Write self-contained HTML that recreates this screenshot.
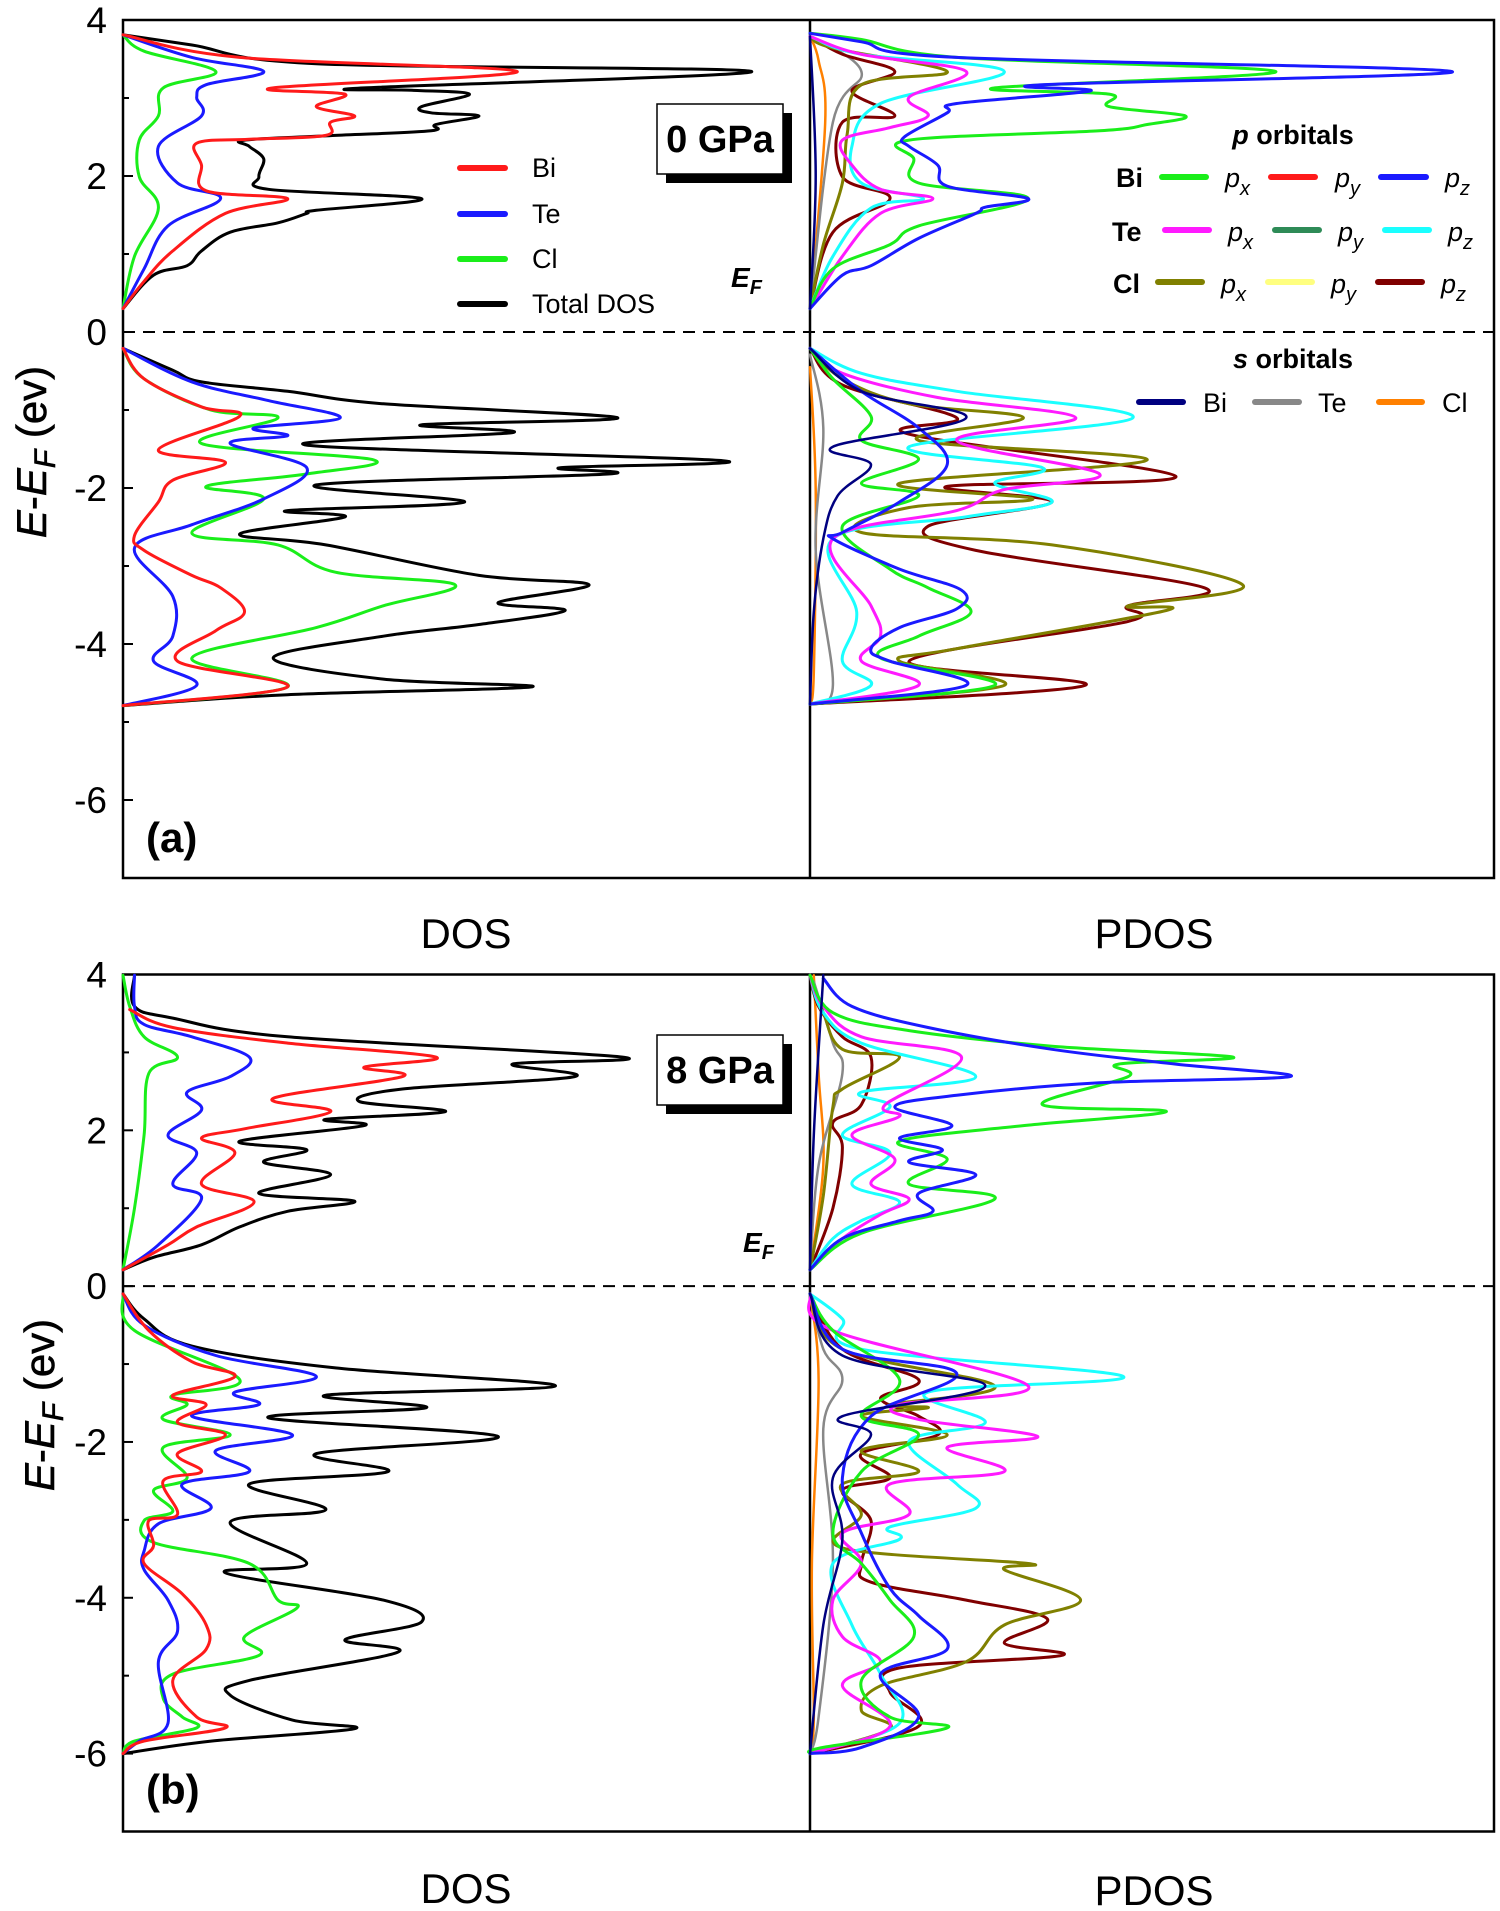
<!DOCTYPE html>
<html><head><meta charset="utf-8"><style>
html,body{margin:0;padding:0;background:#fff;}
svg{display:block;font-family:"Liberation Sans Narrow","Liberation Sans",sans-serif;}
</style></head><body>
<svg id="chart" width="1500" height="1911" viewBox="0 0 1500 1911" xmlns="http://www.w3.org/2000/svg">
<g id="frames"></g>
<g id="curves"></g>
<g id="labels"></g>
</svg>
<script>
// ===== Panel (a) 0 GPa, DOS =====
const totE_a=[0.30,0.73,0.85,1.04,1.28,1.40,1.52,1.56,1.71,1.83,1.99,2.22,2.38,2.46,2.52,2.58,2.66,2.77,2.81,2.89,3.05,3.10,3.13,3.34,3.44,3.68,3.81,null,-0.21,-0.49,-0.64,-0.76,-0.92,-1.10,-1.19,-1.29,-1.45,-1.65,-1.74,-1.82,-1.96,-2.18,-2.29,-2.37,-2.59,-2.73,-3.12,-3.24,-3.47,-3.57,-3.75,-3.90,-4.18,-4.45,-4.55,-4.65,-4.79];
const totV_a=[0,3.2,6.7,8.2,11.2,16.2,19.2,20.2,31.2,15.2,14.2,14.7,13.2,12.7,22.2,32.2,32.7,37.2,32.2,31.2,36.2,30.2,25.2,65.7,20.2,7.2,0,null,0,5.2,8.2,17.2,27.2,51.7,31.2,40.7,19.2,62.7,45.7,50.7,20.2,35.7,17.2,23.2,12.2,21.2,37.2,48.7,39.2,46.2,37.2,27.2,15.7,27.2,42.7,17.2,0];
const biE_a=[0.30,0.65,1.04,1.52,1.71,1.81,2.14,2.42,2.47,2.52,2.69,2.77,2.89,3.05,3.13,3.34,3.52,3.81,null,-0.21,-0.60,-0.96,-1.08,-1.51,-1.67,-1.90,-2.18,-2.61,-2.80,-3.12,-3.28,-3.59,-3.83,-4.22,-4.55,-4.79];
const biV_a=[0,2.2,5.2,10.7,17.2,8.7,8.2,7.7,13.2,21.2,21.7,24.2,20.2,23.2,15.7,41.2,12.2,0,null,0,2.2,8.2,12.2,3.7,10.7,5.2,3.7,1.2,2.2,7.2,10.2,12.7,9.7,5.7,17.2,0];
const teE_a=[0.30,0.81,1.36,1.71,1.91,2.38,2.77,3.01,3.17,3.34,3.52,3.81,null,-0.21,-0.64,-0.88,-1.10,-1.23,-1.33,-1.43,-1.74,-2.14,-2.47,-2.77,-3.39,-3.90,-4.22,-4.53,-4.79];
const teV_a=[0,2.2,4.7,10.2,5.7,3.7,8.2,7.7,8.7,14.7,7.2,0,null,0,7.2,15.2,22.7,13.7,17.2,11.2,19.2,14.7,7.2,1.2,5.2,5.2,3.2,7.7,0];
const clE_a=[0.30,0.97,1.59,1.99,2.46,2.77,3.13,3.34,3.60,3.81,null,-0.21,-0.60,-1.00,-1.10,-1.43,-1.64,-1.82,-1.98,-2.14,-2.58,-2.73,-3.08,-3.24,-3.51,-3.79,-4.18,-4.55,-4.79];
const clV_a=[0,1.2,3.7,1.7,1.7,3.7,4.2,9.7,2.2,0,null,0,2.2,9.2,16.2,8.2,26.2,19.2,8.7,14.7,7.2,16.2,22.2,34.7,27.2,20.2,7.2,17.2,0];
// ===== Panel (a) PDOS =====
const biPzE_a=[0.30,0.73,0.85,1.20,1.52,1.60,1.71,1.87,2.14,2.38,2.50,2.81,2.93,3.09,3.17,3.34,3.52,3.72,3.83,null,-0.21,-0.76,-1.23,-1.70,-2.18,-2.57,-2.65,-3.04,-3.31,-3.55,-3.79,-4.06,-4.22,-4.53,-4.77];
const biPzV_a=[0,3.4,6.4,11.4,17.4,18.4,22.9,14.4,13.4,10.4,9.9,14.4,15.4,29.4,24.4,67.4,15.4,5.4,0,null,0,5.4,11.4,14.4,9.4,3.4,2.4,9.4,15.9,15.4,9.4,6.4,8.4,16.4,0];
const biPxE_a=[0.30,0.81,1.12,1.36,1.71,1.91,2.22,2.46,2.58,2.66,2.77,2.89,3.05,3.13,3.34,3.52,3.75,3.83,null,-0.21,-0.60,-1.08,-1.39,-1.63,-1.94,-2.10,-2.49,-3.04,-3.28,-3.59,-3.90,-4.18,-4.53,-4.77];
const biPxV_a=[0,2.4,8.4,11.4,22.9,11.4,10.9,10.4,30.4,35.4,39.4,31.4,31.4,19.4,48.9,15.4,5.4,0,null,0,2.4,6.4,5.4,11.4,5.4,11.4,3.4,8.4,12.4,16.9,11.4,7.4,19.4,0];
const tePxE_a=[0.30,0.97,1.52,1.71,1.83,2.14,2.46,2.62,2.77,3.01,3.34,3.56,3.79,null,-0.21,-0.53,-0.84,-1.10,-1.39,-1.82,-2.02,-2.29,-2.65,-3.51,-3.90,-4.22,-4.53,-4.77];
const tePxV_a=[0,3.4,7.4,12.9,7.4,4.4,3.4,8.4,12.4,10.4,16.4,5.4,0,null,0,3.4,13.4,27.9,15.4,30.4,20.4,15.4,2.4,6.4,7.4,5.4,11.4,0];
const tePzE_a=[0.30,0.97,1.59,1.71,1.91,2.38,2.93,3.34,3.56,3.79,null,-0.21,-0.53,-0.76,-1.10,-1.47,-1.74,-1.94,-2.18,-2.37,-2.65,-3.59,-4.22,-4.53,-4.77];
const tePzV_a=[0,2.4,6.4,11.9,5.4,4.4,7.4,20.4,5.4,0,null,0,5.4,15.4,33.9,10.4,24.4,19.4,25.4,16.4,2.4,4.9,3.4,6.4,0];
const clPxE_a=[0.30,1.12,1.91,2.54,3.17,3.34,3.64,3.79,null,-0.21,-0.60,-0.92,-1.10,-1.39,-1.64,-1.94,-2.14,-2.25,-2.57,-2.73,-3.24,-3.51,-3.57,-4.06,-4.22,-4.53,-4.77];
const clPxV_a=[0,1.4,3.4,3.9,5.4,14.4,2.4,0,null,0,3.4,10.4,22.4,11.4,35.4,9.4,23.4,10.4,5.4,25.4,45.4,33.4,37.4,15.4,9.4,20.4,0];
const clPzE_a=[0.30,1.28,1.71,1.99,2.69,2.77,3.09,3.34,3.56,3.79,null,-0.21,-0.68,-1.10,-1.31,-1.85,-1.98,-2.18,-2.49,-2.80,-3.28,-3.51,-3.71,-4.22,-4.53,-4.77];
const clPzV_a=[0,2.4,8.4,3.4,3.4,8.9,4.4,8.9,3.4,0,null,0,3.4,15.4,10.4,38.4,14.4,25.4,12.4,17.4,41.4,33.4,33.4,10.4,28.9,0];
const biSE_a=[0.30,2.0,3.79,null,-0.21,-0.76,-1.10,-1.47,-1.70,-2.10,-2.65,-3.59,-4.77];
const biSV_a=[0,0.6,0,null,0,5.4,16.4,2.4,6.4,2.9,1.4,0.4,0];
const teSE_a=[0.30,2.69,3.34,3.79,null,-0.29,-1.23,-2.80,-4.53,-4.77];
const teSV_a=[0,2.4,5.4,0,null,0,1.4,0.6,2.4,0];
const clSE_a=[0.30,2.69,3.48,3.79,null,-0.45,-2.02,-4.37,-4.77];
const clSV_a=[0,1.6,0.9,0,null,0,0.6,0.4,0];
// ===== Panel (b) 8 GPa, DOS =====
const totE_b=[0.21,0.37,0.53,0.76,0.96,1.09,1.19,1.43,1.59,1.75,1.86,2.06,2.14,2.24,2.37,2.53,2.69,2.85,2.94,3.20,3.44,3.59,3.99,null,-0.10,-0.42,-0.77,-1.05,-1.28,-1.40,-1.56,-1.69,-1.93,-2.15,-2.38,-2.54,-2.87,-3.03,-3.56,-3.68,-4.03,-4.31,-4.54,-4.70,-5.06,-5.25,-5.57,-5.68,-5.84,-6.00];
const totV_b=[0,3.2,8.2,12.2,17.2,24.2,14.2,21.7,14.7,19.2,12.2,25.2,21.2,33.7,24.7,29.2,47.2,40.7,52.2,17.2,5.2,1.2,1.2,null,0,2.2,7.2,22.2,45.2,21.2,31.7,15.2,39.2,20.2,27.7,13.2,21.2,11.2,19.2,10.7,27.2,31.2,23.2,28.7,13.2,11.2,17.7,24.2,9.2,0];
const biE_b=[0.21,0.53,0.76,1.08,1.31,1.71,1.90,2.02,2.24,2.41,2.69,2.81,2.94,3.12,3.32,3.55,null,-0.10,-0.57,-0.97,-1.16,-1.40,-1.52,-1.75,-1.91,-2.15,-2.38,-2.50,-2.93,-3.01,-3.33,-3.56,-3.95,-4.35,-4.66,-5.06,-5.53,-5.67,-5.84,-6.00];
const biV_b=[0,4.7,7.7,13.7,8.2,11.7,8.2,12.7,21.7,15.7,29.2,25.2,32.7,17.2,5.2,0.7,null,0,2.7,7.2,11.7,5.2,8.7,5.7,10.7,5.7,8.2,4.2,5.7,2.7,3.2,2.2,6.2,8.7,8.7,5.2,7.7,10.7,2.2,0];
const teE_b=[0.21,0.53,1.12,1.31,1.71,1.94,2.26,2.49,2.69,2.94,3.20,3.36,3.59,3.99,null,-0.10,-0.50,-0.89,-1.16,-1.36,-1.52,-1.67,-1.91,-2.11,-2.38,-2.54,-2.85,-3.05,-3.40,-3.64,-4.03,-4.43,-4.82,-5.61,-5.84,-6.00];
const teV_b=[0,3.7,8.2,5.2,7.7,4.7,8.2,6.7,11.2,13.2,7.2,2.2,1.2,1.2,null,0,2.2,9.7,20.2,11.7,14.2,7.2,17.7,9.7,13.2,6.2,9.2,3.7,2.2,2.2,4.7,5.7,3.7,4.7,1.7,0];
const clE_b=[0.21,1.00,1.94,2.73,2.94,3.20,3.59,3.99,null,-0.10,-0.57,-1.20,-1.40,-1.52,-1.71,-1.91,-2.07,-2.46,-2.62,-2.89,-3.01,-3.29,-3.56,-4.03,-4.13,-4.50,-4.74,-4.98,-5.29,-5.53,-5.67,-5.84,-6.00];
const clV_b=[0,1.2,2.2,2.7,5.7,2.2,0.7,0,null,0,1.2,12.2,5.2,6.7,4.2,11.2,4.2,6.7,3.2,5.2,2.2,3.2,13.2,16.2,18.2,12.7,14.2,5.2,4.2,6.2,7.7,1.2,0];
// ===== Panel (b) PDOS =====
const biPzE_b=[0.21,0.61,0.84,0.96,1.19,1.43,1.59,1.75,1.90,2.06,2.30,2.45,2.61,2.69,2.85,3.04,3.32,3.59,3.95,null,-0.10,-0.81,-1.12,-1.67,-2.46,-3.17,-3.88,-4.23,-4.66,-4.98,-5.53,-5.92,-6.00];
const biPzV_b=[0,3.4,9.4,12.9,11.4,17.4,10.4,13.9,9.4,14.9,8.9,15.4,30.4,50.4,38.4,25.4,12.4,4.4,1.4,null,0,3.4,15.4,6.4,3.4,5.4,8.4,11.4,14.4,7.4,11.4,5.4,0];
const biPxE_b=[0.21,0.68,1.12,1.31,1.63,1.86,2.06,2.24,2.33,2.69,2.85,2.94,3.08,3.28,3.51,3.99,null,-0.10,-0.57,-1.20,-1.67,-1.91,-2.38,-3.17,-3.56,-4.03,-4.50,-5.06,-5.53,-5.67,-5.92,-6.00];
const biPxV_b=[0,5.4,19.4,10.4,14.4,9.4,22.4,37.4,24.4,33.4,32.4,44.4,25.4,10.4,2.4,0,null,0,2.4,9.4,5.4,11.4,5.4,2.4,5.4,8.4,10.9,5.4,8.4,14.4,1.4,0];
const tePxE_b=[0.21,0.61,0.92,1.12,1.31,1.63,1.94,2.18,2.33,2.94,3.20,3.59,3.99,null,-0.10,-0.57,-1.28,-1.52,-1.71,-1.93,-2.07,-2.38,-2.54,-2.93,-3.17,-3.56,-4.03,-4.50,-4.82,-5.13,-5.65,-6.00];
const tePxV_b=[0,3.4,7.4,10.4,6.4,8.9,4.4,9.4,7.9,15.9,5.4,1.4,0,null,0,2.4,22.9,9.4,11.4,23.9,14.4,20.4,8.4,10.4,3.4,5.4,2.4,3.4,7.4,3.4,8.4,0];
const tePzE_b=[0.21,0.61,0.84,1.08,1.31,1.71,1.94,2.30,2.49,2.69,3.12,3.51,3.99,null,-0.10,-0.42,-0.81,-1.16,-1.36,-1.75,-1.99,-2.54,-2.85,-3.09,-3.25,-3.56,-4.35,-4.98,-5.61,-6.00];
const tePzV_b=[0,2.4,5.4,9.4,4.4,8.4,3.4,8.4,5.4,17.4,5.4,1.4,0,null,0,3.4,5.4,32.9,12.4,18.4,10.4,15.4,17.4,8.4,9.4,2.4,4.4,7.4,9.4,0];
const clPxE_b=[0.21,1.16,2.30,2.53,2.94,3.04,3.51,3.99,null,-0.10,-0.81,-1.28,-1.52,-1.56,-1.67,-1.91,-2.11,-2.38,-2.54,-2.93,-3.36,-3.56,-3.64,-4.03,-4.35,-4.82,-5.13,-5.45,-5.68,-6.00];
const clPxV_b=[0,1.4,2.4,3.4,9.4,3.4,1.4,0,null,0,3.4,19.4,8.4,12.4,5.4,14.4,5.4,11.4,3.4,5.4,3.4,22.9,20.4,28.4,20.4,16.4,7.4,5.4,8.4,0];
const clPzE_b=[0.21,1.00,1.78,2.10,2.33,2.94,3.20,3.59,3.99,null,-0.10,-0.81,-1.20,-1.44,-1.67,-1.91,-2.15,-2.46,-2.62,-3.01,-3.56,-3.80,-4.03,-4.27,-4.58,-4.74,-4.90,-5.21,-5.65,-6.00];
const clPzV_b=[0,2.4,3.4,2.4,5.4,6.4,3.4,0.9,0,null,0,3.4,11.4,7.4,11.4,13.4,5.4,8.4,3.4,6.4,5.4,6.4,16.4,24.9,20.4,26.4,9.4,8.4,11.4,0];
const biSE_b=[0.21,1.94,3.99,null,-0.10,-0.89,-1.28,-1.67,-1.91,-2.46,-3.25,-4.35,-6.00];
const biSV_b=[0,0.4,1.4,null,0,3.4,18.4,3.4,6.4,2.4,3.4,1.4,0];
const teSE_b=[0.21,1.55,2.73,3.12,3.91,null,-0.10,-0.81,-1.20,-1.83,-3.56,-5.53,-6.00];
const teSV_b=[0,0.9,3.4,2.4,0.4,null,0,1.4,3.4,1.4,2.4,0.9,0];
const clSE_b=[0.21,1.55,2.73,3.99,null,-0.10,-1.20,-3.56,-5.53,-6.00];
const clSV_b=[0,1.4,0.9,0.4,null,0,0.9,0.2,0.4,0];
// ===== Axis ticks =====
const yTicks=[4,2,0,-2,-4,-6];
const yTickLabels=["4","2","0","-2","-4","-6"];
const yMinor=[3,1,-1,-3,-5,-7];

const NS="http://www.w3.org/2000/svg";
const E_TOP=4, E_BOT=-7;
const panels=[{top:20,bot:878,key:'a'},{top:974.5,bot:1831.5,key:'b'}];
const XL=123, XM=810, XR=1494, DOSMAX=71.8;
function yScale(p,E){return p.top+(E_TOP-E)*(p.bot-p.top)/(E_TOP-E_BOT);}
function xLeft(v){return XL+v*(XM-XL)/DOSMAX;}
function xRight(v){return XM+v*(XR-XM)/DOSMAX;}
function mk(tag,attrs,parent){const el=document.createElementNS(NS,tag);for(const k in attrs)el.setAttribute(k,attrs[k]);parent.appendChild(el);return el;}
const frames=document.getElementById('frames'),curves=document.getElementById('curves'),labels=document.getElementById('labels');

function smoothPath(pts){
  if(pts.length<2)return '';
  let d='M'+pts[0][0].toFixed(1)+' '+pts[0][1].toFixed(1);
  const t=0.35;
  for(let i=0;i<pts.length-1;i++){
    const p0=pts[Math.max(0,i-1)],p1=pts[i],p2=pts[i+1],p3=pts[Math.min(pts.length-1,i+2)];
    const c1x=p1[0]+(p2[0]-p0[0])*t/2, c1y=p1[1]+(p2[1]-p0[1])*t/2;
    const c2x=p2[0]-(p3[0]-p1[0])*t/2, c2y=p2[1]-(p3[1]-p1[1])*t/2;
    d+=' C'+c1x.toFixed(1)+' '+c1y.toFixed(1)+' '+c2x.toFixed(1)+' '+c2y.toFixed(1)+' '+p2[0].toFixed(1)+' '+p2[1].toFixed(1);
  }
  return d+' ';
}
function drawSeries(p,Es,Vs,xf,color,name,w){
  let d='',seg=[];
  const n=Math.min(Es.length,Vs.length);
  for(let i=0;i<n;i++){
    if(Es[i]===null||Vs[i]===null){d+=smoothPath(seg);seg=[];continue;}
    seg.push([xf(Vs[i]),yScale(p,Es[i])]);
  }
  d+=smoothPath(seg);
  const path=mk('path',{d:d,fill:'none',stroke:color,'stroke-width':w||3,'stroke-linejoin':'round','stroke-linecap':'round'},curves);
  
  
}
const C={bi:'#ff1a1a',te:'#1a1aff',cl:'#1aee1a',tot:'#000',biPx:'#1aee1a',biPz:'#1a1aff',tePx:'#ff1aff',tePz:'#1affff',clPx:'#808000',clPz:'#800000',biS:'#000080',teS:'#888888',clS:'#ff8000'};
const S={
 a:{tot:[totE_a,totV_a],bi:[biE_a,biV_a],te:[teE_a,teV_a],cl:[clE_a,clV_a],biPx:[biPxE_a,biPxV_a],biPz:[biPzE_a,biPzV_a],tePx:[tePxE_a,tePxV_a],tePz:[tePzE_a,tePzV_a],clPx:[clPxE_a,clPxV_a],clPz:[clPzE_a,clPzV_a],biS:[biSE_a,biSV_a],teS:[teSE_a,teSV_a],clS:[clSE_a,clSV_a]},
 b:{tot:[totE_b,totV_b],bi:[biE_b,biV_b],te:[teE_b,teV_b],cl:[clE_b,clV_b],biPx:[biPxE_b,biPxV_b],biPz:[biPzE_b,biPzV_b],tePx:[tePxE_b,tePxV_b],tePz:[tePzE_b,tePzV_b],clPx:[clPxE_b,clPxV_b],clPz:[clPzE_b,clPzV_b],biS:[biSE_b,biSV_b],teS:[teSE_b,teSV_b],clS:[clSE_b,clSV_b]}
};
const names={tot:'total-dos',bi:'bi-dos',te:'te-dos',cl:'cl-dos',biPx:'bi-px-pdos',biPz:'bi-pz-pdos',tePx:'te-px-pdos',tePz:'te-pz-pdos',clPx:'cl-px-pdos',clPz:'cl-pz-pdos',biS:'bi-s-pdos',teS:'te-s-pdos',clS:'cl-s-pdos'};

panels.forEach(p=>{
  const s=S[p.key];
  ['tot','cl','te','bi'].forEach(k=>drawSeries(p,s[k][0],s[k][1],xLeft,C[k],names[k]+'-'+p.key,3));
  ['clS','teS','clPz','clPx','tePz','tePx','biPx','biPz','biS'].forEach(k=>drawSeries(p,s[k][0],s[k][1],xRight,C[k],names[k]+'-'+p.key,k.endsWith('S')?2.5:3));
  const r=mk('rect',{x:XL,y:p.top,width:XR-XL,height:p.bot-p.top,fill:'none',stroke:'#000','stroke-width':2.5},frames);
  
  
  const dv=mk('line',{x1:XM,y1:p.top,x2:XM,y2:p.bot,stroke:'#000','stroke-width':2.5},frames);
  
  
  const y0=yScale(p,0);
  const fl=mk('line',{x1:XL,y1:y0,x2:XR,y2:y0,stroke:'#000','stroke-width':2,'stroke-dasharray':'12 8'},labels);
  
  
  yTicks.forEach((t,i)=>{
    const y=yScale(p,t);
    const tk=mk('line',{x1:XL,y1:y,x2:XL+10,y2:y,stroke:'#000','stroke-width':2},frames);
    
    
    const tx=mk('text',{x:107,y:y+13,'text-anchor':'end','font-size':37,fill:'#000'},labels);
    tx.textContent=yTickLabels[i];
    
    
  });
  yMinor.forEach(t=>{
    const y=yScale(p,t);
    const tk=mk('line',{x1:XL,y1:y,x2:XL+6,y2:y,stroke:'#000','stroke-width':2},frames);
    
    
  });
});
</script>
<svg width="1500" height="1911" style="position:absolute;left:0;top:0" xmlns="http://www.w3.org/2000/svg" font-family="'Liberation Sans Narrow','Liberation Sans',sans-serif">
  <text transform="translate(46,452) rotate(-90)" text-anchor="middle" font-family="Liberation Sans, sans-serif" font-size="42" stroke="#000" stroke-width="0.6"><tspan font-style="italic">E</tspan>-<tspan font-style="italic">E</tspan><tspan font-style="italic" font-size="30" dy="9">F</tspan><tspan dy="-9"> (ev)</tspan></text>
  <text transform="translate(54,1405) rotate(-90)" text-anchor="middle" font-family="Liberation Sans, sans-serif" font-size="42" stroke="#000" stroke-width="0.6"><tspan font-style="italic">E</tspan>-<tspan font-style="italic">E</tspan><tspan font-style="italic" font-size="30" dy="9">F</tspan><tspan dy="-9"> (ev)</tspan></text>
  <text x="466" y="948" text-anchor="middle" font-size="42">DOS</text>
  <text x="1154" y="948" text-anchor="middle" font-size="42">PDOS</text>
  <text x="466" y="1903" text-anchor="middle" font-size="42">DOS</text>
  <text x="1154" y="1905" text-anchor="middle" font-size="42">PDOS</text>
  <text x="146" y="852" font-size="42" font-weight="bold">(a)</text>
  <text x="146" y="1804" font-size="42" font-weight="bold">(b)</text>
  <g>
    <rect x="666" y="113" width="126" height="70" fill="#000"/>
    <rect x="657" y="104" width="126" height="70" fill="#fff" stroke="#000" stroke-width="1.5"/>
    <text x="720" y="152" text-anchor="middle" font-size="38" font-weight="bold">0 GPa</text>
  </g>
  <g>
    <rect x="666" y="1044" width="126" height="70" fill="#000"/>
    <rect x="657" y="1035" width="126" height="70" fill="#fff" stroke="#000" stroke-width="1.5"/>
    <text x="720" y="1083" text-anchor="middle" font-size="38" font-weight="bold">8 GPa</text>
  </g>
  <text x="731" y="287" font-size="28" font-weight="bold" font-style="italic">E<tspan font-size="20" dy="7">F</tspan></text>
  <text x="743" y="1252" font-size="28" font-weight="bold" font-style="italic">E<tspan font-size="20" dy="7">F</tspan></text>
  <g font-size="27">
    <line x1="460" y1="168" x2="505" y2="168" stroke="#ff1a1a" stroke-width="6" stroke-linecap="round"/><text x="532" y="177">Bi</text>
    <line x1="460" y1="214" x2="505" y2="214" stroke="#1a1aff" stroke-width="6" stroke-linecap="round"/><text x="532" y="223">Te</text>
    <line x1="460" y1="259" x2="505" y2="259" stroke="#1aee1a" stroke-width="6" stroke-linecap="round"/><text x="532" y="268">Cl</text>
    <line x1="460" y1="304" x2="505" y2="304" stroke="#000" stroke-width="6" stroke-linecap="round"/><text x="532" y="313">Total DOS</text>
  </g>
  <g font-size="27">
    <text x="1293" y="144" text-anchor="middle" font-weight="bold"><tspan font-style="italic">p</tspan> orbitals</text>
    <text x="1116" y="187" font-weight="bold">Bi</text>
    <line x1="1162" y1="177" x2="1206" y2="177" stroke="#1aee1a" stroke-width="6" stroke-linecap="round"/><text x="1225" y="187" font-style="italic">p<tspan font-size="20" dy="8">x</tspan></text>
    <line x1="1271" y1="177" x2="1315" y2="177" stroke="#ff1a1a" stroke-width="6" stroke-linecap="round"/><text x="1335" y="187" font-style="italic">p<tspan font-size="20" dy="8">y</tspan></text>
    <line x1="1381" y1="177" x2="1426" y2="177" stroke="#1a1aff" stroke-width="6" stroke-linecap="round"/><text x="1445" y="187" font-style="italic">p<tspan font-size="20" dy="8">z</tspan></text>
    <text x="1112" y="241" font-weight="bold">Te</text>
    <line x1="1165" y1="230" x2="1209" y2="230" stroke="#ff1aff" stroke-width="6" stroke-linecap="round"/><text x="1228" y="241" font-style="italic">p<tspan font-size="20" dy="8">x</tspan></text>
    <line x1="1275" y1="230" x2="1319" y2="230" stroke="#2e8b57" stroke-width="6" stroke-linecap="round"/><text x="1338" y="241" font-style="italic">p<tspan font-size="20" dy="8">y</tspan></text>
    <line x1="1385" y1="230" x2="1429" y2="230" stroke="#1affff" stroke-width="6" stroke-linecap="round"/><text x="1448" y="241" font-style="italic">p<tspan font-size="20" dy="8">z</tspan></text>
    <text x="1113" y="293" font-weight="bold">Cl</text>
    <line x1="1158" y1="282" x2="1202" y2="282" stroke="#808000" stroke-width="6" stroke-linecap="round"/><text x="1221" y="293" font-style="italic">p<tspan font-size="20" dy="8">x</tspan></text>
    <line x1="1268" y1="282" x2="1312" y2="282" stroke="#ffff80" stroke-width="6" stroke-linecap="round"/><text x="1331" y="293" font-style="italic">p<tspan font-size="20" dy="8">y</tspan></text>
    <line x1="1378" y1="282" x2="1422" y2="282" stroke="#800000" stroke-width="6" stroke-linecap="round"/><text x="1441" y="293" font-style="italic">p<tspan font-size="20" dy="8">z</tspan></text>
  </g>
  <g font-size="27">
    <text x="1293" y="368" text-anchor="middle" font-weight="bold"><tspan font-style="italic">s</tspan> orbitals</text>
    <line x1="1139" y1="402" x2="1183" y2="402" stroke="#000080" stroke-width="6" stroke-linecap="round"/><text x="1203" y="412">Bi</text>
    <line x1="1255" y1="402" x2="1299" y2="402" stroke="#888888" stroke-width="6" stroke-linecap="round"/><text x="1318" y="412">Te</text>
    <line x1="1379" y1="402" x2="1422" y2="402" stroke="#ff8000" stroke-width="6" stroke-linecap="round"/><text x="1442" y="412">Cl</text>
  </g>
</svg>
</body></html>
